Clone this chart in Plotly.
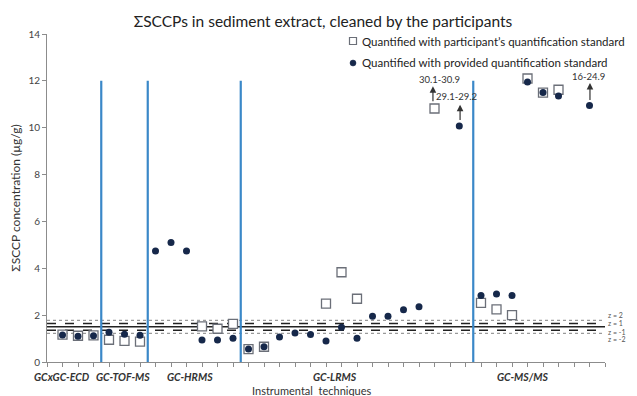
import plotly.graph_objects as go

# ---- data ----
sq_x = [1, 2, 3, 4, 5, 6, 10, 11, 12, 13, 14, 18, 19, 20, 25, 28, 29, 30, 31, 32, 33]
sq_y = [1.17, 1.12, 1.14, 0.95, 0.90, 0.87, 1.52, 1.42, 1.63, 0.55, 0.65, 2.49, 3.83, 2.70,
        10.82, 2.52, 2.25, 2.00, 12.10, 11.50, 11.62]
dot_x = [1, 2, 3, 4, 5, 6, 7, 8, 9, 10, 11, 12, 13, 14, 15, 16, 17, 18, 19, 20, 21, 22, 23, 24,
         26.6, 28, 29, 30, 31, 32, 33, 35]
dot_y = [1.15, 1.10, 1.12, 1.27, 1.18, 1.14, 4.74, 5.10, 4.74, 0.94, 0.94, 1.01, 0.55, 0.65,
         1.07, 1.24, 1.17, 0.90, 1.48, 1.01, 1.95, 1.95, 2.23, 2.36,
         10.07, 2.84, 2.90, 2.84, 11.95, 11.50, 11.35, 10.95]
separators = [3.5, 6.5, 12.5, 27.5]
techniques = ["GCxGC-ECD", "GC-TOF-MS", "GC-HRMS", "GC-LRMS", "GC-MS/MS"]
technique_pos = [0.95, 4.9, 9.2, 18.6, 30.7]
z_values = [1.78, 1.64, 1.50, 1.36, 1.22]
z_labels = ["z = 2", "z = 1", "", "z = -1", "z = -2"]
z_styles = ["dot", "dash", "solid", "dash", "dot"]
off_scale_x = [24.9, 26.65, 35.03]
off_scale_from = [11.07, 10.27, 11.12]
off_scale_to = [11.77, 10.98, 11.91]
off_scale_text = ["30.1-30.9", "29.1-29.2", "16-24.9"]
off_text_x = [25.35, 26.4, 34.92]
off_text_y = [12.05, 11.32, 12.19]
legend_names = ["Quantified with participant\u2019s quantification standard",
                "Quantified with provided quantification standard"]

FONT = "Lato"
SQ_COLOR = "#6b6f78"
DOT_COLOR = "#16284a"

# page body has an 8px margin: size the figure so the plot lands where intended
W, H = 629, 388
ML, MR, MT, MB = 39, 32, 26, 34
PW, PH = W - ML - MR, H - MT - MB


def px_x(p):  # window pixel -> paper x
    return (p - 8 - ML) / PW


def px_y(p):  # window pixel -> paper y
    return 1 - (p - 8 - MT) / PH


fig = go.Figure()
shapes = []

# z-score reference lines
for v, st in zip(z_values, z_styles):
    shapes.append(dict(type="line", xref="x", yref="y", x0=0, x1=36, y0=v, y1=v,
                       line=dict(color="#9a9a9a" if st == "dot" else "#222222",
                                 width=1.5 if st != "dot" else 1.3, dash=st), layer="below"))

# separators
for s in separators:
    shapes.append(dict(type="line", xref="x", yref="y", x0=s, x1=s, y0=0, y1=12,
                       line=dict(color="#3a88c8", width=2.2), layer="below"))

# legend glyphs
shapes.append(dict(type="rect", xref="paper", yref="paper",
                   x0=px_x(349.5), x1=px_x(356.5), y0=px_y(44.5), y1=px_y(37.5),
                   line=dict(color=SQ_COLOR, width=1.2), fillcolor="white"))
shapes.append(dict(type="circle", xref="paper", yref="paper",
                   x0=px_x(350), x1=px_x(356), y0=px_y(66), y1=px_y(60),
                   line=dict(color=DOT_COLOR, width=0.5), fillcolor=DOT_COLOR))

fig.add_trace(go.Scatter(
    x=sq_x, y=sq_y, mode="markers", name=legend_names[0],
    marker=dict(symbol="square", size=9, color="white",
                line=dict(color=SQ_COLOR, width=1.3))))
fig.add_trace(go.Scatter(
    x=dot_x, y=dot_y, mode="markers", name=legend_names[1],
    marker=dict(symbol="circle", size=7, color=DOT_COLOR)))

annotations = []
for name, yy in zip(legend_names, [41, 63]):
    annotations.append(dict(x=px_x(360), y=px_y(yy), xref="paper", yref="paper", text=name,
                            showarrow=False, xanchor="left", yanchor="middle",
                            font=dict(family=FONT, size=11.5, color="#222222")))
for t, p in zip(techniques, technique_pos):
    annotations.append(dict(x=p, y=px_y(377), xref="x", yref="paper",
                            text="<b><i>" + t + "</i></b>",
                            showarrow=False, yanchor="middle",
                            font=dict(family=FONT, size=10.5, color="#333333")))
z_shift = {"z = 2": 5, "z = 1": 1, "z = -1": -2, "z = -2": -6}
for v, lab in zip(z_values, z_labels):
    if lab:
        annotations.append(dict(x=1.0, y=v, xref="paper", yref="y", text=lab, showarrow=False,
                                xanchor="left", xshift=1, yshift=z_shift[lab],
                                font=dict(family=FONT, size=7, color="#555555")))
for xa, y0, y1, tx, txx, txy in zip(off_scale_x, off_scale_from, off_scale_to,
                                     off_scale_text, off_text_x, off_text_y):
    annotations.append(dict(x=xa, y=y1, ax=xa, ay=y0, xref="x", yref="y", axref="x", ayref="y",
                            text="", showarrow=True, arrowhead=2, arrowsize=1.1,
                            arrowwidth=1.2, arrowcolor="#333333"))
    annotations.append(dict(x=txx, y=txy, xref="x", yref="y", text=tx, showarrow=False,
                            font=dict(family=FONT, size=9.5, color="#333333")))
annotations.append(dict(x=px_x(312), y=px_y(390), xref="paper", yref="paper",
                        text="Instrumental  techniques", showarrow=False, yanchor="middle",
                        font=dict(family=FONT, size=11, color="#333333")))

fig.update_layout(
    width=W, height=H, autosize=False,
    margin=dict(l=ML, r=MR, t=MT, b=MB, autoexpand=False),
    paper_bgcolor="white", plot_bgcolor="white",
    title=dict(text="\u03a3SCCPs in sediment extract, cleaned by the participants",
               x=(323 - 8) / W, xanchor="center", y=1 - (22 - 8) / H, yanchor="middle",
               font=dict(family=FONT, size=15.5, color="#222222")),
    font=dict(family=FONT, color="#333333"),
    showlegend=False,
    shapes=shapes,
    annotations=annotations,
    xaxis=dict(range=[0, 36], showgrid=False, zeroline=False, showline=True,
               linecolor="#8c8c8c", linewidth=1, ticks="outside", ticklen=4,
               tickcolor="#8c8c8c", tickvals=list(range(0, 37)), showticklabels=False),
    yaxis=dict(range=[0, 14], showgrid=False, zeroline=False, showline=True,
               linecolor="#8c8c8c", linewidth=1, ticks="outside", ticklen=4,
               tickcolor="#8c8c8c", dtick=2, automargin=False,
               tickfont=dict(family=FONT, size=10, color="#444444"),
               title=dict(text="\u03a3SCCP concentration (\u00b5g/g)", standoff=12,
                          font=dict(family=FONT, size=12, color="#333333"))),
)

fig.write_html("out.html")
